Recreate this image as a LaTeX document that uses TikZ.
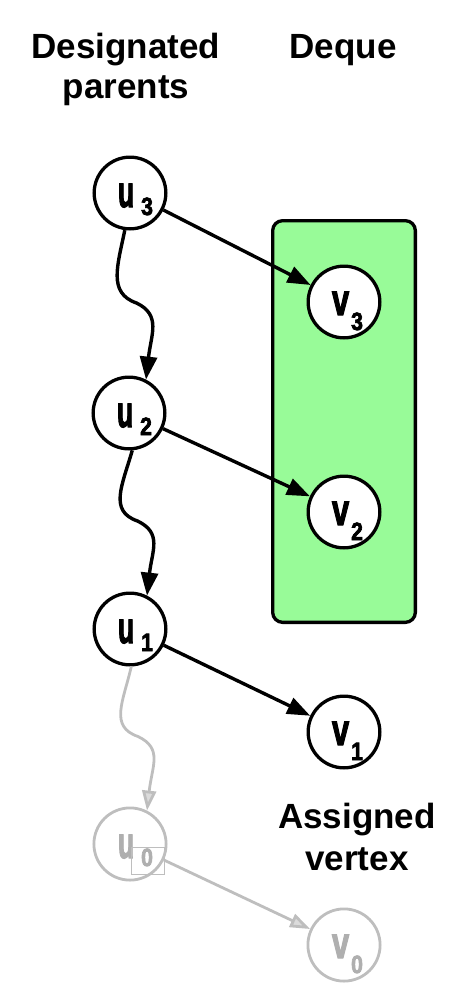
\documentclass[tikz,border=0pt]{standalone}
\usepackage{fontspec}
\setmainfont{Liberation Sans}
\newfontfamily\labfam[FakeBold=3]{Liberation Sans}
\usepackage{graphicx}
\usetikzlibrary{arrows.meta,calc}
\definecolor{dequegreen}{RGB}{152,251,152}
\definecolor{faint}{RGB}{190,190,190}
\definecolor{fainttext}{RGB}{175,175,175}
\newcommand{\letterfont}{\labfam\bfseries\fontsize{44}{44}\selectfont}
\newcommand{\subfont}{\labfam\bfseries\fontsize{25}{25}\selectfont}
% letter, digit, baseline drop, gap, subscript drop, horizontal scale
\newcommand{\nlab}[6]{\raisebox{-#3}[0pt][0pt]{\makebox[0pt][l]{\hspace{-12pt}\scalebox{#6}[1]{\letterfont #1}\hspace{#4}\raisebox{-#5}{\scalebox{0.85}[1]{\subfont #2}}}}}
\newcommand{\ulab}[1]{\nlab{u}{#1}{14pt}{7pt}{8pt}{0.6}}
\newcommand{\vlab}[1]{\nlab{v}{#1}{13pt}{2pt}{15pt}{0.7}}
\begin{document}
\begin{tikzpicture}[x=1pt,y=-1pt,
  vert/.style={circle,draw,line width=3.3pt,fill=white,minimum size=71.7pt,inner sep=0pt},
  ghost/.style={circle,draw=faint,line width=2.8pt,fill=white,minimum size=72.2pt,inner sep=0pt,text=fainttext},
  arr/.style={line width=3.4pt,-{Triangle[length=23pt,width=17pt]}},
  garr/.style={line width=2.8pt,draw=faint,-{Triangle[length=20pt,width=14pt,fill=faint!55]}},
  title/.style={font=\fontsize{35}{40}\selectfont\bfseries,align=center,inner sep=0pt}
]
\useasboundingbox (0,0) rectangle (470,1004);

% titles
\node[title,anchor=north] (tparents) at (126,32.5) {Designated\\parents};
\node[title,anchor=base] (tdeque) at (343,58) {Deque};
\node[title,anchor=north,font=\fontsize{35}{42}\selectfont\bfseries] (tassigned) at (357,802.5) {Assigned\\vertex};

% deque box
\node[draw,line width=3.3pt,fill=dequegreen,rounded corners=10pt,minimum width=142.7pt,minimum height=401.7pt,inner sep=0pt] (deque) at (344,421.5) {};

% vertices
\node[vert] (u3) at (130,193) {\ulab{3}};
\node[vert] (u2) at (129,413) {\ulab{2}};
\node[vert] (u1) at (130,629) {\ulab{1}};
\node[ghost] (u0) at (130,844) {\ulab{0}};
\node[vert] (v3) at (344,302) {\vlab{3}};
\node[vert] (v2) at (344,512) {\vlab{2}};
\node[vert] (v1) at (344,732) {\vlab{1}};
\node[ghost] (v0) at (344,945) {\vlab{0}};

% small box around the subscript of u0
\node[draw=faint,line width=1.6pt,minimum width=33pt,minimum height=27pt,inner sep=0pt] (u0box) at (148,861) {};

% designated-parent chain (wavy)
\draw[arr] (u3.262) .. controls +(-7,35) and +(-29,-10) .. ($(u3)!0.5!(u2)+(7,0)$)
                    .. controls +(25,12) and +(5,-45) .. (u2.63);
\draw[arr] (u2.275) .. controls +(-10,35) and +(-29,-10) .. ($(u2)!0.5!(u1)+(8,0)$)
                    .. controls +(25,12) and +(5,-45) .. (u1.63);
\draw[garr] (u1.272) .. controls +(-8,35) and +(-29,-10) .. ($(u1)!0.5!(u0)+(8,0)$)
                    .. controls +(25,12) and +(5,-45) .. (u0.63);

% assignments
\draw[arr] (u3) -- (v3);
\draw[arr] (u2) -- (v2);
\draw[arr] (u1) -- (v1);
\draw[garr] (u0) -- (v0);
\end{tikzpicture}
\end{document}
